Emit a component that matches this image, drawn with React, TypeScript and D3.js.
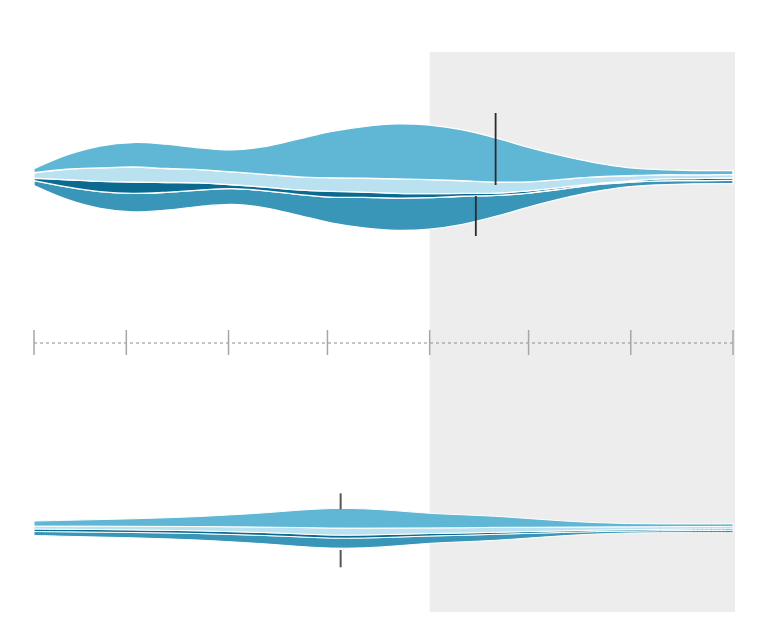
import React from 'react';
import * as d3 from 'd3';

// Day offsets from 1 Feb 2015
const dayOffsets = [0, 10, 20, 30, 40, 50, 60, 70, 80, 90, 100, 110, 120, 130, 140, 150, 160, 170, 180, 190, 200, 210, 212];

// Upper stream (four series)
const upperA = [4, 14.3, 21.9, 24.5, 24.3, 21.7, 22, 27.7, 37.6, 46.2, 51.7, 54.9, 54.5, 50.8, 44.1, 34.6, 23.7, 14.3, 8.2, 5.2, 4.3, 4, 4];
const upperB = [5.5, 10.5, 13.5, 15, 14, 13.3, 12.8, 12.8, 13.1, 13.5, 13.9, 14.5, 14, 12.7, 11, 9, 8, 6.7, 5.3, 4.1, 3.7, 3.3, 3.2];
const upperC = [2.4, 7.2, 10.2, 11.4, 9.8, 7.2, 3.8, 3.7, 4.5, 5.8, 5.2, 4.7, 4, 2.8, 2.4, 2.1, 1.7, 1.1, 1.2, 1.9, 2.1, 2.4, 2.5];
const upperD = [5, 12.5, 16.7, 18.5, 17.9, 16.5, 15.9, 17, 20.8, 25.7, 30.5, 32.4, 31.5, 28.2, 21, 14, 9.6, 7, 4.6, 4, 3.2, 3.3, 3.3];

// Lower stream (four series)
const lowerA = [5, 5.8, 6.6, 7.5, 8.6, 10, 12, 14.3, 17.2, 19.5, 19.3, 17.2, 14.6, 13, 11, 8.7, 6.3, 4.4, 3.3, 2.8, 2.6, 2.5, 2.5];
const lowerB = [3, 3.2, 3.4, 3.6, 3.9, 4.3, 4.9, 5.5, 6.3, 7, 6.9, 6.3, 5.6, 5.2, 5, 4.3, 3.8, 3.2, 2.8, 2.6, 2.5, 2.5, 2.5];
const lowerC = [2.4, 2.5, 2.6, 2.6, 2.6, 2.7, 2.8, 2.9, 3, 3, 3, 2.8, 2.5, 2.3, 2, 1.8, 1.6, 1.5, 1.4, 1.4, 1.5, 1.5, 1.5];
const lowerD = [4, 4.5, 4.9, 5.3, 5.9, 6.5, 7.3, 8.3, 9.5, 10, 9.8, 8.7, 7.3, 6.5, 6, 4.7, 3.3, 2.4, 2, 2, 2.1, 2.2, 2.2];

// Marker lines: [day offset, from value, to value]
const upperMarkers: [number, number, number][] = [[140, -7.8, 64.2], [134, -58.8, -18.8]];
const lowerMarkers: [number, number, number][] = [[93, 19, 35], [93, -39, -21.7]];

const shadeStartDay = 120; // 1 June

const keys = ['d', 'c', 'b', 'a'];
const colors: Record<string, string> = { a: '#60b7d5', b: '#b9e1ef', c: '#0a6a8f', d: '#3a96b8' };

const start = new Date(Date.UTC(2015, 1, 1));
const end = new Date(Date.UTC(2015, 8, 1));
const dayToDate = (d: number) => d3.utcDay.offset(start, d);

function buildRows(a: number[], b: number[], c: number[], d: number[]) {
  return dayOffsets.map((off, i) => ({ date: dayToDate(off), a: a[i], b: b[i], c: c[i], d: d[i] }));
}

export default function App() {
  const W = 768;
  const H = 631;
  const x = d3.scaleUtc().domain([start, end]).range([34, 733]);
  const yUpper = d3.scaleLinear().domain([-100, 100]).range([277.2, 77.2]);
  const yLower = d3.scaleLinear().domain([-100, 100]).range([628.3, 428.3]);
  const axisY = 343;

  const stack = d3.stack<any>().keys(keys).offset(d3.stackOffsetSilhouette).order(d3.stackOrderNone);
  const upperSeries = stack(buildRows(upperA, upperB, upperC, upperD));
  const lowerSeries = stack(buildRows(lowerA, lowerB, lowerC, lowerD));

  const areaFor = (y: d3.ScaleLinear<number, number>) =>
    d3.area<any>()
      .x((p) => x(p.data.date))
      .y0((p) => y(p[0]))
      .y1((p) => y(p[1]))
      .curve(d3.curveCatmullRom.alpha(0.5));

  const upperArea = areaFor(yUpper);
  const lowerArea = areaFor(yLower);
  const ticks = x.ticks(d3.utcMonth.every(1) as any);

  return (
    <svg width={W} height={H} style={{ position: 'absolute', left: 0, top: 0, background: '#fff' }}>
      <rect x={x(dayToDate(shadeStartDay))} y={52} width={735 - x(dayToDate(shadeStartDay))} height={560} fill="#ededed" />
      <g>
        {upperSeries.map((s) => (
          <path key={s.key} d={upperArea(s as any) || ''} fill={colors[s.key]} stroke="#fff" strokeWidth={1.3} />
        ))}
      </g>
      <g>
        {lowerSeries.map((s) => (
          <path key={s.key} d={lowerArea(s as any) || ''} fill={colors[s.key]} stroke="#fff" strokeWidth={1} />
        ))}
      </g>
      {upperMarkers.map((m, i) => (
        <line key={'um' + i} x1={x(dayToDate(m[0]))} x2={x(dayToDate(m[0]))} y1={yUpper(m[1])} y2={yUpper(m[2])} stroke="#2b2b2b" strokeWidth={1.8} />
      ))}
      {lowerMarkers.map((m, i) => (
        <line key={'lm' + i} x1={x(dayToDate(m[0]))} x2={x(dayToDate(m[0]))} y1={yLower(m[1])} y2={yLower(m[2])} stroke="#555" strokeWidth={2} />
      ))}
      <line x1={x(start)} x2={x(end)} y1={axisY} y2={axisY} stroke="#8c8c8c" strokeWidth={1.2} strokeDasharray="3,3" />
      {ticks.map((t, i) => (
        <line key={'t' + i} x1={x(t)} x2={x(t)} y1={axisY - 13} y2={axisY + 12} stroke="#a6a6a6" strokeWidth={1.5} />
      ))}
    </svg>
  );
}
